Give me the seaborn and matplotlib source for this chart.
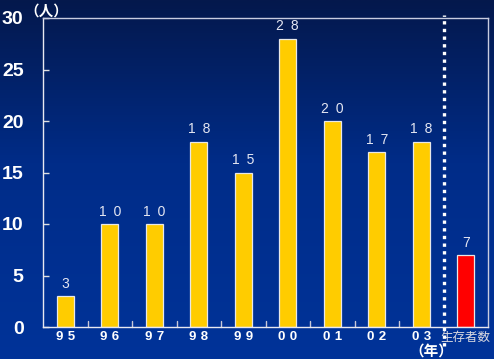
import numpy as np
import pandas as pd
import matplotlib
matplotlib.use("Agg")
import matplotlib.pyplot as plt
import seaborn as sns

# Yearly counts (1995-2003) plus the survivor count
categories = ["95", "96", "97", "98", "99", "00", "01", "02", "03", "生存者数"]
values = [3, 10, 10, 18, 15, 28, 20, 17, 18, 7]
groups = ["year"] * 9 + ["survivor"]
y_ticks = [0, 5, 10, 15, 20, 25, 30]

sns.set_theme(style="white")
plt.rcParams["font.family"] = ["Liberation Sans", "Noto Sans CJK JP", "DejaVu Sans"]

df = pd.DataFrame({"cat": categories, "val": values, "grp": groups})

fig = plt.figure(figsize=(4.94, 3.59), dpi=100)

# Gradient backdrop: dark navy at the top fading into royal blue
bg = fig.add_axes([0, 0, 1, 1], zorder=-10)
grad = np.linspace(0, 1, 256).reshape(-1, 1)
top = np.array([0x04, 0x18, 0x4c]) / 255
mid = np.array([0x00, 0x2c, 0x88]) / 255
bot = np.array([0x00, 0x33, 0x99]) / 255
t = np.clip(grad * 2.2, 0, 1)
cols = top * (1 - t[..., None]) + mid * t[..., None]
t2 = np.clip((grad - 0.45) / 0.55, 0, 1)
cols = cols * (1 - t2[..., None]) + bot * t2[..., None]
bg.imshow(cols, aspect="auto", extent=[0, 1, 0, 1], origin="upper")
bg.set_axis_off()

ax = fig.add_axes([43 / 494, 1 - 327 / 359, 445 / 494, 309 / 359])
ax.set_facecolor("none")

sns.barplot(data=df, x="cat", y="val", hue="grp",
            palette={"year": "#FFCC00", "survivor": "#FF0000"},
            saturation=1, dodge=False, width=0.38,
            edgecolor="#e8e8e8", linewidth=0.9,
            legend=False, ax=ax)

ax.set_ylim(0, 30)
ax.set_xlim(-0.5, len(categories) - 0.5)
ax.set_xlabel("")
ax.set_ylabel("")

for s in ax.spines.values():
    s.set_color("#c8cce0")
    s.set_linewidth(1.0)
ax.spines["left"].set_color("#e8e8f0")
ax.spines["bottom"].set_color("#e8e8f0")

# Y axis: bold white numbers, short inward ticks
ax.set_yticks(y_ticks)
ax.set_yticklabels([str(v) for v in y_ticks], fontsize=14, fontweight="bold",
                   color="white")
ax.tick_params(axis="y", direction="in", length=4, color="#e0e0e0",
               width=1, pad=14, left=True)

# X axis: spaced digit labels, ticks between categories
ax.set_xticks(range(len(categories)))
xl = ["\u2004".join(c) if c.isdigit() else c for c in categories]
ax.set_xticklabels(xl)
for lab, c in zip(ax.get_xticklabels(), categories):
    if c.isdigit():
        lab.set_fontsize(9.5)
        lab.set_fontweight("bold")
        lab.set_color("white")
    else:
        lab.set_fontsize(9)
        lab.set_color("#d8d8e0")
        lab.set_family(["Noto Sans CJK JP", "DejaVu Sans"])
ax.tick_params(axis="x", length=0, pad=3)
for b in np.arange(0.5, 8.5, 1.0):
    ax.plot([b, b], [0, 0.6], color="#c8c8d8", lw=1, clip_on=False)

# Value labels above bars
for i, v in enumerate(values):
    ax.text(i, v + 0.5, "\u2002".join(str(v)), ha="center", va="bottom",
            fontsize=10, color="#e4e6f2")

# Dotted separator before the survivor column
ax.plot([8.5, 8.5], [-0.06, 1.01], transform=ax.get_xaxis_transform(),
        color="white", lw=2.4, linestyle=(0, (1.0, 1.3)),
        dash_capstyle="butt", clip_on=False, zorder=5)

# Unit labels
cjk = ["Noto Sans CJK JP", "DejaVu Sans"]
fig.text(46 / 494, 1 - 11 / 359, "（人）", ha="center", va="center",
         fontsize=10.5, fontweight="bold", color="white", family=cjk)
fig.text(431 / 494, 1 - 351 / 359, "（年）", ha="center", va="center",
         fontsize=10.5, fontweight="bold", color="white", family=cjk)

fig.savefig("out.png", dpi=100)
